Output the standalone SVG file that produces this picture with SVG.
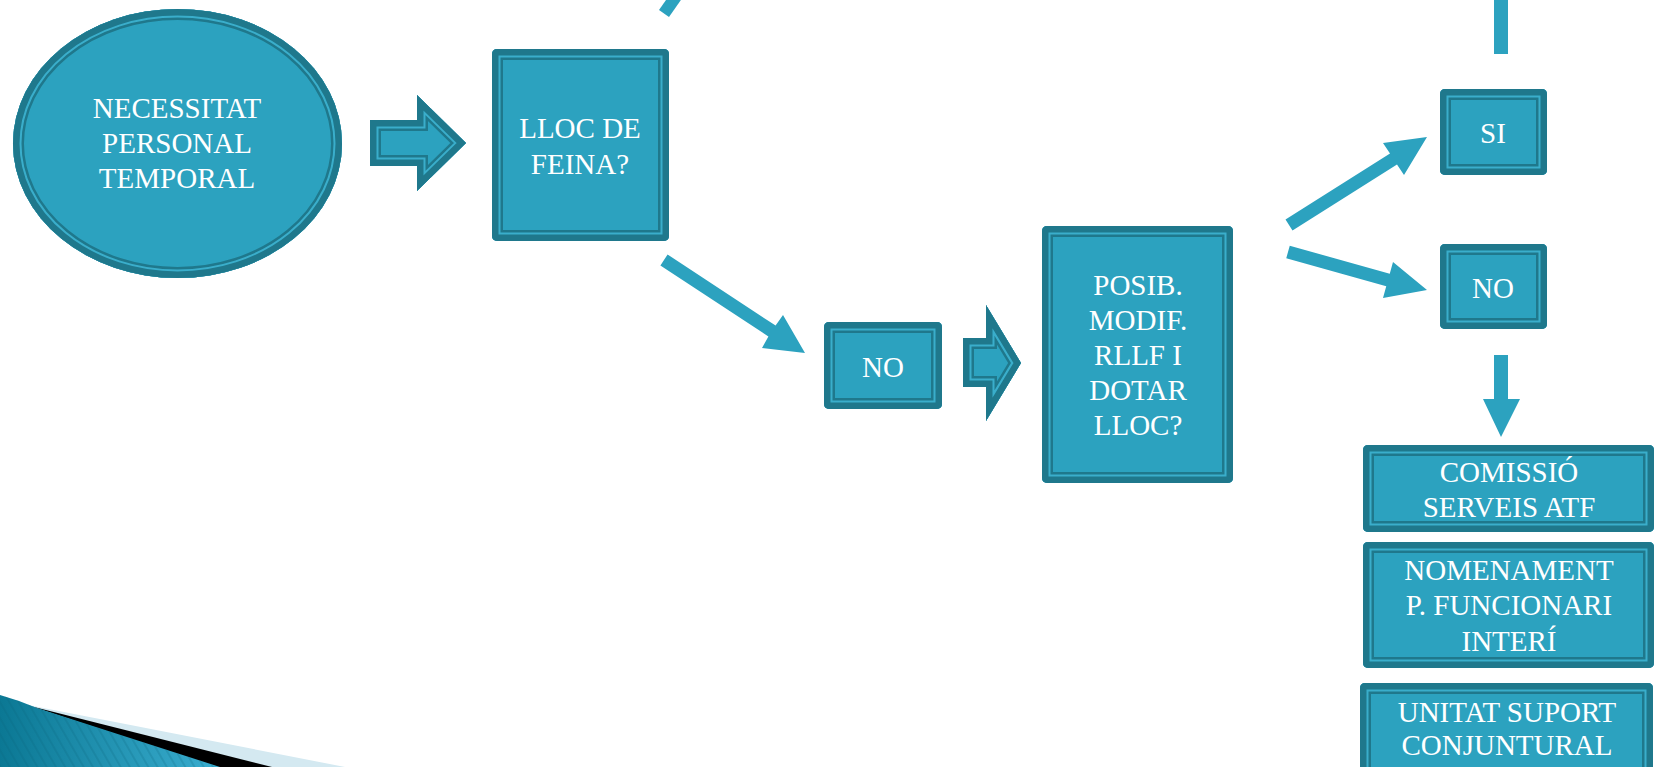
<svg xmlns="http://www.w3.org/2000/svg" width="1655" height="767" viewBox="0 0 1655 767">
<style>
.f{fill:#2ca2bf}
.b1{fill:none;stroke:#1f788c;stroke-width:22}
.b2{fill:none;stroke:#3aaecb;stroke-width:17}
.b3{fill:none;stroke:#1f788c;stroke-width:13}
.t{font-family:"Liberation Serif","Times New Roman",serif;font-size:29px;fill:#ffffff;text-anchor:middle}
.c{fill:#2ca2bf}
</style>
<defs>
<ellipse id="s-ell" cx="177.5" cy="143.5" rx="164.5" ry="134.5"/>
<polygon id="s-a1" points="370,120 417,120 417,95 466,143 417,191 417,166 370,166"/>
<rect id="s-lloc" x="492" y="49" width="177" height="192" rx="5"/>
<rect id="s-no1" x="824" y="322" width="118" height="87" rx="5"/>
<polygon id="s-a2" points="963,338 986,338 986,305 1021,363 986,421 986,387 963,387"/>
<rect id="s-posib" x="1042" y="226" width="191" height="257" rx="5"/>
<rect id="s-si" x="1440" y="89" width="107" height="86" rx="5"/>
<rect id="s-no2" x="1440" y="244" width="107" height="85" rx="5"/>
<rect id="s-com" x="1363" y="445" width="291" height="87" rx="5"/>
<rect id="s-nom" x="1363" y="542" width="291" height="126" rx="5"/>
<rect id="s-uni" x="1360" y="683" width="293" height="100" rx="5"/>
<clipPath id="k-ell"><use href="#s-ell"/></clipPath>
<clipPath id="k-a1"><use href="#s-a1"/></clipPath>
<clipPath id="k-lloc"><use href="#s-lloc"/></clipPath>
<clipPath id="k-no1"><use href="#s-no1"/></clipPath>
<clipPath id="k-a2"><use href="#s-a2"/></clipPath>
<clipPath id="k-posib"><use href="#s-posib"/></clipPath>
<clipPath id="k-si"><use href="#s-si"/></clipPath>
<clipPath id="k-no2"><use href="#s-no2"/></clipPath>
<clipPath id="k-com"><use href="#s-com"/></clipPath>
<clipPath id="k-nom"><use href="#s-nom"/></clipPath>
<clipPath id="k-uni"><use href="#s-uni"/></clipPath>
<linearGradient id="g-deco" x1="0" y1="0" x2="1" y2="0">
<stop offset="0" stop-color="#0b7894"/>
<stop offset="1" stop-color="#3aaed0"/>
</linearGradient>
<pattern id="p-stripe" width="8" height="8" patternUnits="userSpaceOnUse" patternTransform="rotate(-30)">
<line x1="1" y1="0" x2="1" y2="8" stroke="#06607a" stroke-width="1.2" stroke-opacity="0.35"/>
</pattern>
</defs>

<g id="decoration">
<path d="M 28 705 L 345 767 L 28 767 Z" fill="#d4e9f1"/>
<path d="M 30 706 L 272 767 L 215 767 Z" fill="#000000"/>
<path d="M 0 695 Q 18 700 37 708 L 220 767 L 0 767 Z" fill="url(#g-deco)"/>
<path d="M 0 695 Q 18 700 37 708 L 220 767 L 0 767 Z" fill="url(#p-stripe)"/>
</g>

<g id="connectors">
<polygon class="c" points="659,10 669,17 683,-3 673,-10"/>
<polygon class="c" points="667.6,254.6 775.6,325.6 783,315 805,353 762,348 768.4,336.4 660.4,265.4"/>
<polygon class="c" points="1285.5,219.5 1390,153.5 1383,143 1427,137 1404,175 1397,164.5 1292.5,230.5"/>
<polygon class="c" points="1289.75,245.74 1389.75,273.74 1393,262 1427,290 1383,298 1386.25,286.26 1286.25,258.26"/>
<rect class="c" x="1494" y="0" width="14" height="54"/>
<polygon class="c" points="1494,355 1508,355 1508,399 1520,399 1501,437 1483,399 1494,399"/>
</g>

<g id="n-necessitat">
<use href="#s-ell" class="f"/>
<g clip-path="url(#k-ell)"><use href="#s-ell" class="b1"/><use href="#s-ell" class="b2"/><use href="#s-ell" class="b3"/></g>
<text class="t" x="177" y="118">NECESSITAT</text>
<text class="t" x="177" y="153">PERSONAL</text>
<text class="t" x="177" y="188">TEMPORAL</text>
</g>

<g id="n-arrow1">
<use href="#s-a1" class="f"/>
<g clip-path="url(#k-a1)"><use href="#s-a1" class="b1"/><use href="#s-a1" class="b2"/><use href="#s-a1" class="b3"/></g>
</g>

<g id="n-lloc">
<use href="#s-lloc" class="f"/>
<g clip-path="url(#k-lloc)"><use href="#s-lloc" class="b1"/><use href="#s-lloc" class="b2"/><use href="#s-lloc" class="b3"/></g>
<text class="t" x="580" y="138">LLOC DE</text>
<text class="t" x="580" y="174">FEINA?</text>
</g>

<g id="n-no1">
<use href="#s-no1" class="f"/>
<g clip-path="url(#k-no1)"><use href="#s-no1" class="b1"/><use href="#s-no1" class="b2"/><use href="#s-no1" class="b3"/></g>
<text class="t" x="883" y="377">NO</text>
</g>

<g id="n-arrow2">
<use href="#s-a2" class="f"/>
<g clip-path="url(#k-a2)"><use href="#s-a2" class="b1"/><use href="#s-a2" class="b2"/><use href="#s-a2" class="b3"/></g>
</g>

<g id="n-posib">
<use href="#s-posib" class="f"/>
<g clip-path="url(#k-posib)"><use href="#s-posib" class="b1"/><use href="#s-posib" class="b2"/><use href="#s-posib" class="b3"/></g>
<text class="t" x="1138" y="295">POSIB.</text>
<text class="t" x="1138" y="330">MODIF.</text>
<text class="t" x="1138" y="365">RLLF I</text>
<text class="t" x="1138" y="400">DOTAR</text>
<text class="t" x="1138" y="435">LLOC?</text>
</g>

<g id="n-si">
<use href="#s-si" class="f"/>
<g clip-path="url(#k-si)"><use href="#s-si" class="b1"/><use href="#s-si" class="b2"/><use href="#s-si" class="b3"/></g>
<text class="t" x="1493" y="143">SI</text>
</g>

<g id="n-no2">
<use href="#s-no2" class="f"/>
<g clip-path="url(#k-no2)"><use href="#s-no2" class="b1"/><use href="#s-no2" class="b2"/><use href="#s-no2" class="b3"/></g>
<text class="t" x="1493" y="298">NO</text>
</g>

<g id="n-comissio">
<use href="#s-com" class="f"/>
<g clip-path="url(#k-com)"><use href="#s-com" class="b1"/><use href="#s-com" class="b2"/><use href="#s-com" class="b3"/></g>
<text class="t" x="1509" y="482">COMISSIÓ</text>
<text class="t" x="1509" y="517">SERVEIS ATF</text>
</g>

<g id="n-nomenament">
<use href="#s-nom" class="f"/>
<g clip-path="url(#k-nom)"><use href="#s-nom" class="b1"/><use href="#s-nom" class="b2"/><use href="#s-nom" class="b3"/></g>
<text class="t" x="1509" y="580">NOMENAMENT</text>
<text class="t" x="1509" y="615">P. FUNCIONARI</text>
<text class="t" x="1509" y="651">INTERÍ</text>
</g>

<g id="n-unitat">
<use href="#s-uni" class="f"/>
<g clip-path="url(#k-uni)"><use href="#s-uni" class="b1"/><use href="#s-uni" class="b2"/><use href="#s-uni" class="b3"/></g>
<text class="t" x="1507" y="722">UNITAT SUPORT</text>
<text class="t" x="1507" y="755">CONJUNTURAL</text>
</g>
</svg>
